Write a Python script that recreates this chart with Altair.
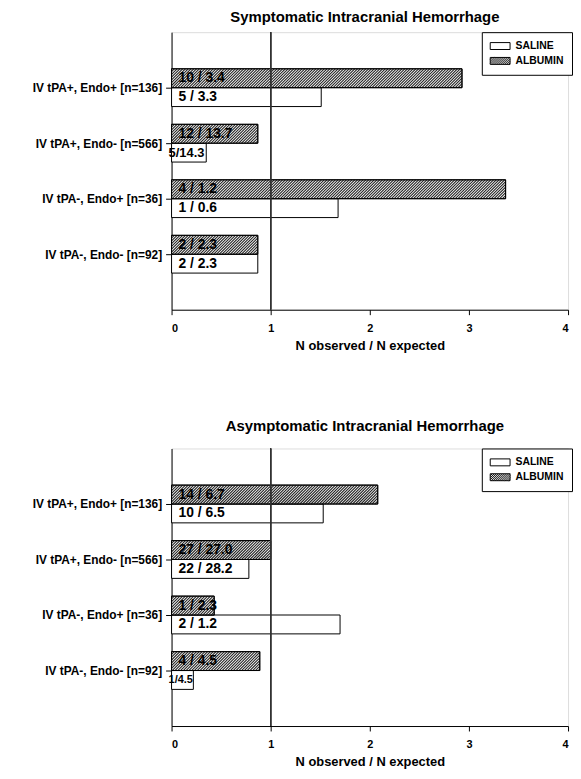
import json
import altair as alt
import pandas as pd

# ---------------- data ----------------
categories = [
    "IV tPA+, Endo+ [n=136]",
    "IV tPA+, Endo- [n=566]",
    "IV tPA-, Endo+ [n=36]",
    "IV tPA-, Endo- [n=92]",
]
series_names = ["SALINE", "ALBUMIN"]

# Symptomatic ICH: N observed / N expected
sym_saline = [1.51, 0.35, 1.68, 0.87]
sym_albumin = [2.93, 0.87, 3.37, 0.87]
sym_saline_labels = ["5 / 3.3", "5/14.3", "1 / 0.6", "2 / 2.3"]
sym_albumin_labels = ["10 / 3.4", "12 / 13.7", "4 / 1.2", "2 / 2.3"]

# Asymptomatic ICH
asym_saline = [1.53, 0.78, 1.70, 0.22]
asym_albumin = [2.08, 1.00, 0.43, 0.89]
asym_saline_labels = ["10 / 6.5", "22 / 28.2", "2 / 1.2", "1/4.5"]
asym_albumin_labels = ["14 / 6.7", "27 / 27.0", "1 / 2.3", "4 / 4.5"]

titles = ["Symptomatic Intracranial Hemorrhage", "Asymptomatic Intracranial Hemorrhage"]
x_title = "N observed / N expected"
x_ticks = [0, 1, 2, 3, 4]

# ---------------- layout constants ----------------
FONT = "Liberation Sans"
PLOT_W, PLOT_H = 400, 280
BAR_H = 0.34          # bar thickness in y-units (56 px per unit)
HATCH_DX = 0.19       # horizontal run of a 45-degree hatch line across one bar
HATCH_STEP = 0.028    # spacing between hatch lines (x-units)


def make_df(saline, albumin, saline_lbl, albumin_lbl):
    rows = []
    for i in range(len(categories)):
        rows.append(dict(pos=i + 1, series="SALINE", value=saline[i], label=saline_lbl[i]))
        rows.append(dict(pos=i + 1, series="ALBUMIN", value=albumin[i], label=albumin_lbl[i]))
    return pd.DataFrame(rows)


# legend symbol paths (unit box, scaled by sqrt(size)/2); wide, flat swatches
SYM_X0, SYM_X1, SYM_H = -1.0, 2.636, 0.636


def rect_path():
    return f"M{SYM_X0},-{SYM_H}H{SYM_X1}V{SYM_H}H{SYM_X0}Z"


def hatch_path(step=0.36):
    p = rect_path()
    run = 2 * SYM_H
    a = SYM_X0 - run
    while a < SYM_X1:
        xs, xe = max(a, SYM_X0), min(a + run, SYM_X1)
        if xe > xs:
            ys = SYM_H - (xs - a)
            ye = SYM_H - (xe - a)
            p += f"M{xs:.3f},{ys:.3f}L{xe:.3f},{ye:.3f}"
        a += step
    return p


label_arr = json.dumps([""] + categories + [""])

x_scale = alt.Scale(domain=[0, 4], nice=False, zero=True)
y_scale = alt.Scale(domain=[0, 5], reverse=True, nice=False, zero=False)

x_axis = alt.Axis(
    values=x_ticks, format="d", title=x_title, grid=False, tickSize=5, labelPadding=8,
    labelFontSize=11, labelFontWeight="bold", titleFontSize=13, titleFontWeight="bold",
    titlePadding=6, domainColor="black", tickColor="black", labelColor="black",
    titleColor="black", labelFont=FONT, titleFont=FONT,
)
y_axis = alt.Axis(
    values=[1, 2, 3, 4], labelExpr=f"{label_arr}[datum.value]", title=None, grid=False,
    tickSize=6, labelPadding=4, labelFontSize=12, labelFontWeight="bold",
    domainColor="black", tickColor="black", labelColor="black", labelFont=FONT,
    minExtent=164, maxExtent=164,
)


def panel(df, title, title_offset):
    base = alt.Chart(df).transform_calculate(
        y_top=f"datum.series == 'ALBUMIN' ? datum.pos - {BAR_H} : datum.pos",
    ).transform_calculate(
        y_bot=f"datum.y_top + {BAR_H}",
        y_mid=f"datum.y_top + {BAR_H / 2}",
    )

    bars = base.mark_bar(fill="white", stroke="black", strokeWidth=1).encode(
        x=alt.X("value:Q", scale=x_scale, axis=x_axis),
        x2=alt.datum(0),
        y=alt.Y("y_top:Q", scale=y_scale, axis=y_axis),
        y2="y_bot:Q",
    )

    hatch = base.transform_filter("datum.series == 'ALBUMIN'").transform_calculate(
        seq=f"sequence(-{HATCH_DX}, datum.value, {HATCH_STEP})"
    ).transform_flatten(["seq"], as_=["a"]).transform_calculate(
        xs="max(datum.a, 0)",
        xe=f"min(datum.a + {HATCH_DX}, datum.value)",
    ).transform_filter("datum.xe > datum.xs").transform_calculate(
        ys=f"datum.pos - (datum.xs - datum.a) / {HATCH_DX} * {BAR_H}",
        ye=f"datum.pos - (datum.xe - datum.a) / {HATCH_DX} * {BAR_H}",
    ).mark_rule(color="#222222", strokeWidth=1.1).encode(
        x="xs:Q", x2="xe:Q", y="ys:Q", y2="ye:Q",
    )

    outline = base.transform_filter("datum.series == 'ALBUMIN'").mark_bar(
        fill=None, stroke="black", strokeWidth=1
    ).encode(x="value:Q", x2=alt.datum(0), y="y_top:Q", y2="y_bot:Q")

    ref = alt.Chart(df).mark_rule(color="#333333", strokeWidth=1).encode(x=alt.datum(1))

    txt_spaced = base.transform_filter("indexof(datum.label, ' ') >= 0").mark_text(
        align="left", baseline="middle", font=FONT, fontWeight="bold", fontSize=14,
        dx=7, color="black",
    ).encode(x=alt.datum(0), y="y_mid:Q", text="label:N")

    txt_compact = base.transform_filter("indexof(datum.label, ' ') < 0").mark_text(
        align="left", baseline="middle", font=FONT, fontWeight="bold", dx=-3,
        color="black",
    ).encode(
        x=alt.datum(0), y="y_mid:Q", text="label:N",
        size=alt.condition("length(datum.label) < 6", alt.value(11), alt.value(13)),
    )

    legend_layer = base.transform_filter("false").mark_point(
        filled=False, color="black", strokeWidth=1
    ).encode(
        x=alt.datum(0), y=alt.datum(1),
        shape=alt.Shape(
            "series:N",
            scale=alt.Scale(domain=series_names, range=[rect_path(), hatch_path()]),
            legend=alt.Legend(
                title=None, orient="none", legendX=313, legendY=0,
                fillColor="white", strokeColor="black", padding=8,
                symbolSize=121, symbolStrokeWidth=1, symbolStrokeColor="black",
                symbolOpacity=1,
                labelFont=FONT, labelFontSize=10.5, labelFontWeight="bold",
                labelColor="black", labelOffset=14, rowPadding=3,
            ),
        ),
    )

    return alt.layer(bars, hatch, outline, ref, txt_spaced, txt_compact, legend_layer).properties(
        width=PLOT_W, height=PLOT_H,
        title=alt.TitleParams(title, font=FONT, fontSize=15, fontWeight="bold",
                              color="black", frame="group", anchor="middle",
                              offset=title_offset, dx=-5),
    )


top = panel(make_df(sym_saline, sym_albumin, sym_saline_labels, sym_albumin_labels),
            titles[0], 7)
bottom = panel(make_df(asym_saline, asym_albumin, asym_saline_labels, asym_albumin_labels),
               titles[1], 14)

chart = alt.vconcat(top, bottom, spacing=66).resolve_scale(
    shape="independent"
).resolve_legend(shape="independent").properties(
    padding={"left": 0, "top": -2, "right": 0, "bottom": 0}
).configure_view(stroke="black", strokeWidth=1).configure(font=FONT, background="white")

chart.save("out.html", embed_options={"renderer": "svg", "actions": False})
